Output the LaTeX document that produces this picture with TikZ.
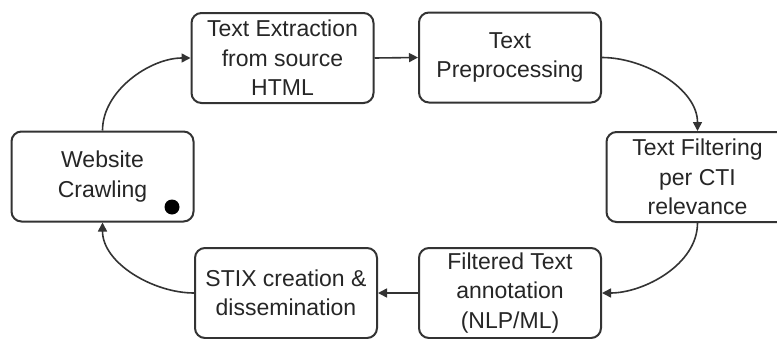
\documentclass[tikz,border=0pt]{standalone}
\usepackage{fontspec}
\setmainfont{Liberation Sans}
\usetikzlibrary{arrows.meta}
\definecolor{ink}{HTML}{262626}
\definecolor{edge}{HTML}{333333}
\tikzset{
  stage/.style={draw=edge, line width=1pt, rounded corners=5pt, fill=white,
    minimum width=91pt, minimum height=45pt, align=center, inner sep=0pt,
    text=ink, font=\fontsize{11.5}{14.75}\selectfont},
  flow/.style={draw=edge, line width=0.8pt,
    -{Triangle[length=4.5pt,width=4.5pt]}}
}
\begin{document}
\begin{tikzpicture}[x=0.5pt,y=-0.5pt]
  \useasboundingbox (0,0) rectangle (777,338);
  \fill[white] (0,0) rectangle (777,338);
  \clip (0,0) rectangle (777,338);

  % the six stages of the pipeline
  \node[stage] (crawl)   at (102.5,176.5) {Website\\Crawling};
  \node[stage] (extract) at (282.5,58)    {Text Extraction\\from source\\HTML};
  \node[stage] (prep)    at (510,57.5)    {Text\\Preprocessing};
  \node[stage] (filter)  at (697.5,177)   {Text Filtering\\per CTI\\relevance};
  \node[stage] (annot)   at (510,293)     {Filtered Text\\annotation\\(NLP/ML)};
  \node[stage] (stix)    at (286,293)     {STIX creation \&\\dissemination};

  % start marker
  \fill[black] (172,207) circle[radius=7.5];

  % connectors
  \draw[flow] (crawl.north) to[out=90,in=180,looseness=0.9] (extract.west);
  \draw[flow] (extract.east) -- (prep.west);
  \draw[flow] (prep.east) to[out=0,in=90,looseness=0.9] (filter.north);
  \draw[flow] (filter.south) to[out=-90,in=0,looseness=0.9] (annot.east);
  \draw[flow] (annot.west) -- (stix.east);
  \draw[flow] (stix.west) to[out=180,in=-90,looseness=0.9] (crawl.south);
\end{tikzpicture}
\end{document}
